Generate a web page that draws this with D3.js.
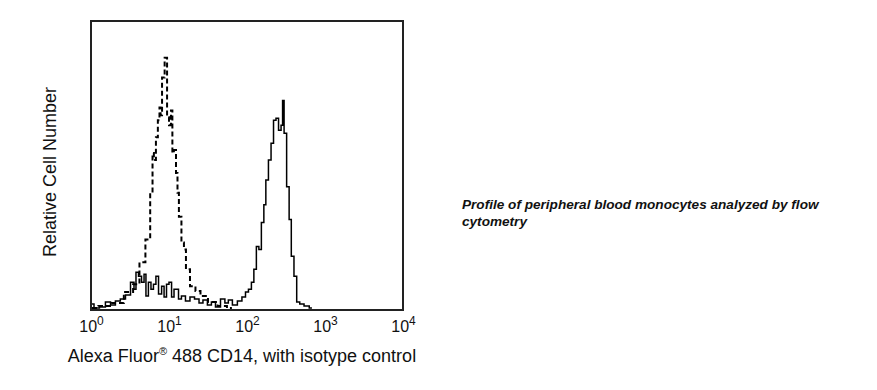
<!DOCTYPE html>
<html>
<head>
<meta charset="utf-8">
<script src="https://cdn.jsdelivr.net/npm/d3@7"></script>
<style>
  body { margin: 0; background: #fff; }
  text { font-family: "Liberation Sans", Arial, sans-serif; fill: #111; }
</style>
</head>
<body>
<div class="chart"></div>
<script>
const width = 877
const height = 390
const frame = { left: 91, right: 403, top: 21, bottom: 310 }

// isotype control (dashed) : fluorescence, relative count
const isoX = [1.03, 1.5, 2.2, 3.16, 3.8, 4.6, 5.4, 6.1, 6.2, 6.6, 7.0, 7.4, 7.7, 7.9, 8.4, 9.2, 9.7, 10.3, 10.9, 11.2, 11.9, 12.7, 13.0, 13.8, 15.1, 16.0, 17.0, 20.3, 23.5, 27.3, 36.6, 47.8, 64]
const isoY = [1, 3, 6, 17, 25, 47, 70, 117, 157, 150, 173, 190, 203, 195, 233, 253, 193, 185, 200, 157, 160, 137, 117, 93, 67, 60, 40, 23, 18, 13, 7, 3, 1]

// CD14 stained (solid)
const cd14X = [1.03, 1.16, 1.42, 1.65, 1.92, 2.2, 2.57, 2.98, 3.46, 3.66, 3.89, 4.25, 4.65, 4.93, 5.2, 5.7, 6.05, 6.6, 7.0, 7.7, 8.4, 8.9, 9.7, 10.3, 11.3, 11.9, 12.7, 13.8, 15.1, 17.5, 19.7, 22.9, 25.7, 28.9, 33.4, 36.6, 42.5, 49.2, 55.1, 60.3, 70, 81, 91.5, 100, 109, 119, 126, 138, 146, 160, 169, 180, 197, 210, 228, 243, 265, 282, 290, 308, 337, 357, 383, 418, 450, 500, 580, 680]
const cd14Y = [5, 1, 2, 7, 4, 8, 10, 14, 27, 20, 37, 33, 27, 35, 13, 27, 20, 25, 33, 15, 23, 12, 25, 27, 12, 20, 20, 10, 13, 8, 12, 10, 6, 9, 4, 7, 2, 10, 6, 9, 4, 8, 12, 17, 20, 27, 40, 63, 60, 87, 105, 130, 150, 167, 190, 192, 180, 185, 210, 177, 123, 90, 53, 33, 7, 5, 3, 1]

const tickValues = [1, 10, 100, 1000, 10000]
const tickExp = ['0', '1', '2', '3', '4']
const xTitle = 'Alexa Fluor'
const xTitleRest = ' 488 CD14, with isotype control'
const yTitle = 'Relative Cell Number'
const caption = ['Profile of peripheral blood monocytes analyzed by flow', 'cytometry']

const iso = isoX.map((x, i) => ({ x: x, y: isoY[i] }))
const cd14 = cd14X.map((x, i) => ({ x: x, y: cd14Y[i] }))

const svg = d3.select('.chart')
    .append('svg')
    .attr('width', width)
    .attr('height', height)

// escalas
const xScale = d3.scaleLog()
    .domain([1, 10000])
    .range([frame.left, frame.right])

const yScale = d3.scaleLinear()
    .domain([0, 290])
    .range([frame.bottom - 1, frame.top])

const line = d3.line()
    .x(d => xScale(d.x))
    .y(d => yScale(d.y))
    .curve(d3.curveStep)

// curvas
svg.append('path')
    .datum(iso)
    .attr('d', line)
    .attr('fill', 'none')
    .attr('stroke', '#000')
    .attr('stroke-width', 2)
    .attr('stroke-dasharray', '5,3')

svg.append('path')
    .datum(cd14)
    .attr('d', line)
    .attr('fill', 'none')
    .attr('stroke', '#000')
    .attr('stroke-width', 1.5)

// marco
svg.append('rect')
    .attr('x', frame.left)
    .attr('y', frame.top)
    .attr('width', frame.right - frame.left)
    .attr('height', frame.bottom - frame.top)
    .attr('fill', 'none')
    .attr('stroke', '#222')
    .attr('stroke-width', 2)

// eje x
const xAxis = d3.axisBottom(xScale)
    .tickValues(tickValues)
    .tickSize(0)
    .tickFormat(() => '')

const gx = svg.append('g')
    .attr('transform', `translate(0,${frame.bottom})`)
    .call(xAxis)
gx.select('.domain').remove()
gx.selectAll('.tick text').each(function(d, i) {
    const t = d3.select(this)
        .attr('y', 22)
        .attr('dy', 0)
        .style('font-size', '16px')
        .style('font-family', '"Liberation Sans", Arial, sans-serif')
        .attr('fill', '#111')
    t.append('tspan').text('10')
    t.append('tspan').attr('dy', -7).style('font-size', '12px').text(tickExp[i])
})

// titulos
const xt = svg.append('text')
    .attr('x', 242)
    .attr('y', 362)
    .attr('text-anchor', 'middle')
    .style('font-size', '18px')
xt.append('tspan').text(xTitle)
xt.append('tspan').attr('dy', -7).style('font-size', '11px').text('®')
xt.append('tspan').attr('dy', 7).text(xTitleRest)

svg.append('text')
    .attr('transform', 'translate(56,172) rotate(-90)')
    .attr('text-anchor', 'middle')
    .style('font-size', '18px')
    .text(yTitle)

svg.append('g')
    .selectAll('text')
    .data(caption)
    .enter()
    .append('text')
    .attr('x', 462)
    .attr('y', (d, i) => 209 + i * 17)
    .style('font-size', '13.6px')
    .style('font-weight', 'bold')
    .style('font-style', 'italic')
    .text(d => d)
</script>
</body>
</html>
